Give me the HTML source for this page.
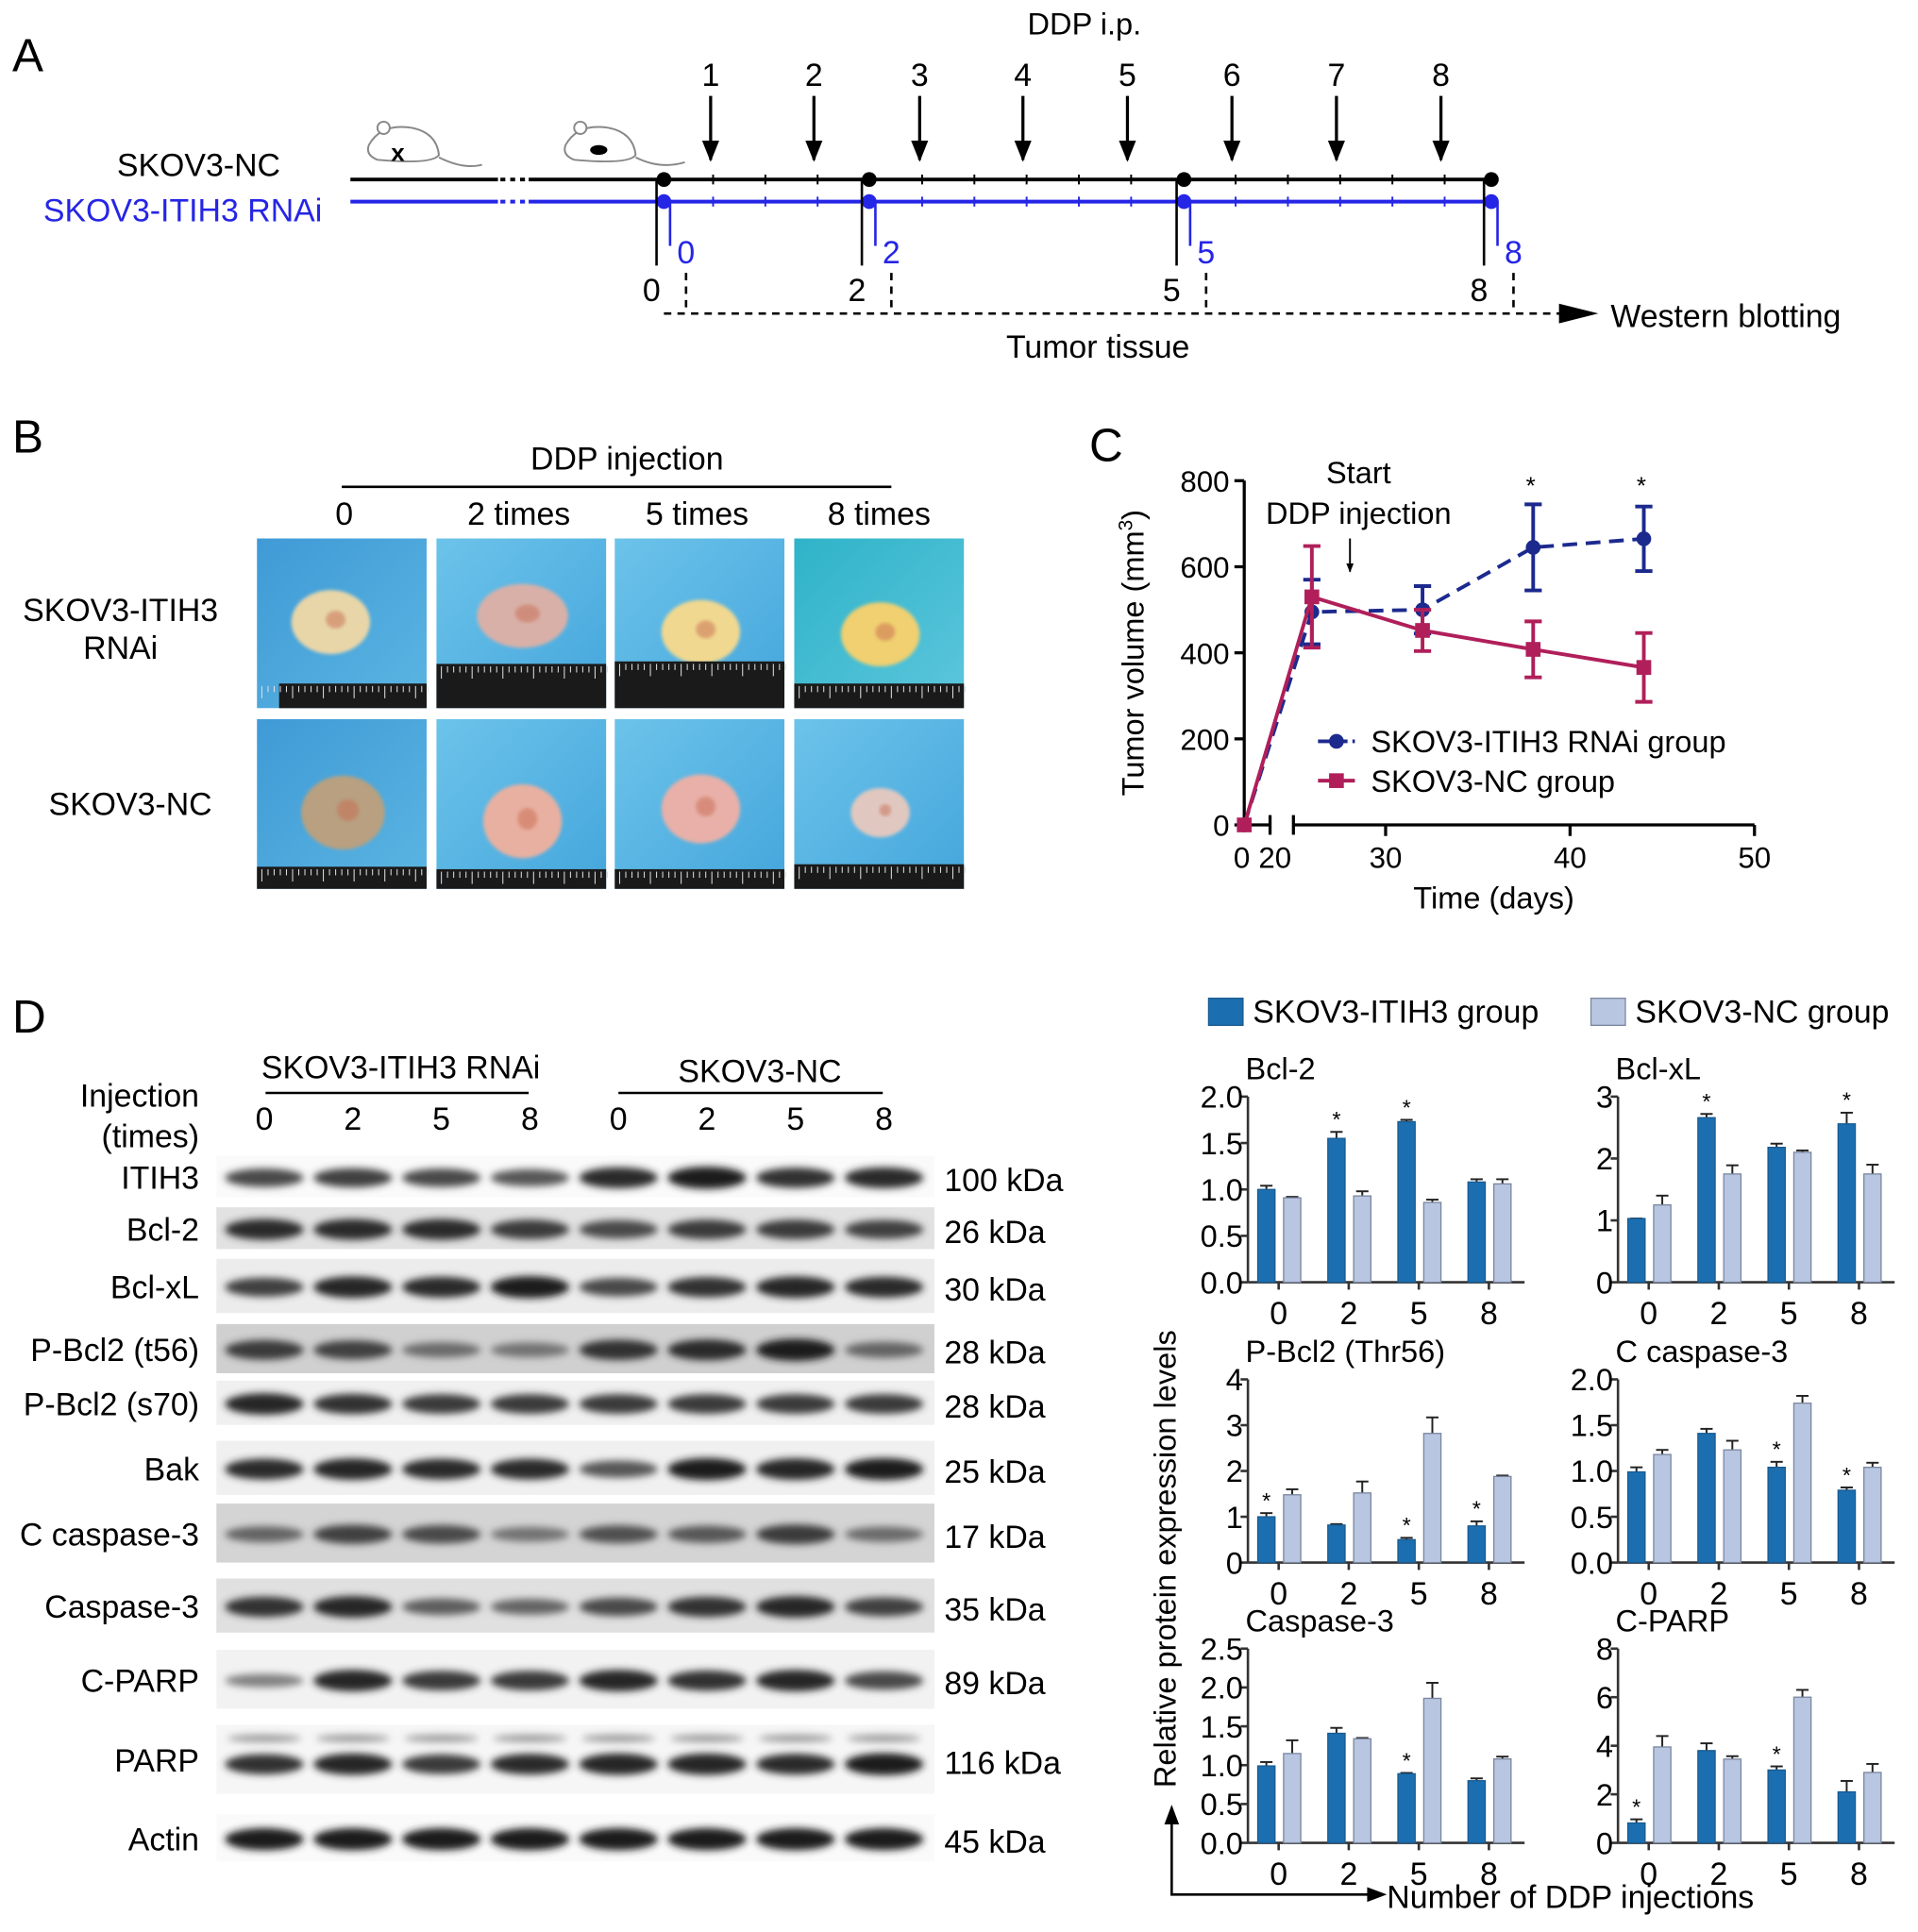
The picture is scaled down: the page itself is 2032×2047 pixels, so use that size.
<!DOCTYPE html>
<html><head><meta charset="utf-8"><title>Figure</title>
<style>
html,body{margin:0;padding:0;background:#fff;}
svg{display:block;font-family:"Liberation Sans",Arial,sans-serif;}
</style></head>
<body>
<svg id="fig" width="2032" height="2047" viewBox="0 0 1560 1571.5" preserveAspectRatio="none" xmlns="http://www.w3.org/2000/svg">
<defs>
<filter id="blur" x="-30%" y="-100%" width="160%" height="300%"><feGaussianBlur stdDeviation="3"/></filter>
<filter id="blur2"><feGaussianBlur stdDeviation="1.5"/></filter>
<marker id="ah" viewBox="0 0 10 10" refX="9" refY="5" markerWidth="7" markerHeight="7" orient="auto"><path d="M0,1 L10,5 L0,9 z" fill="#000"/></marker>
<marker id="ahs" viewBox="0 0 10 10" refX="9" refY="5" markerWidth="5" markerHeight="5" orient="auto"><path d="M0,1 L10,5 L0,9 z" fill="#000"/></marker>
<linearGradient id="bg1" x1="0" y1="0" x2="1" y2="1"><stop offset="0" stop-color="#3f9ad6"/><stop offset="1" stop-color="#5bb5e2"/></linearGradient>
<linearGradient id="bg2" x1="0" y1="0" x2="1" y2="1"><stop offset="0" stop-color="#6cc3ea"/><stop offset="1" stop-color="#45a6dc"/></linearGradient>
<linearGradient id="bg3" x1="0" y1="0" x2="1" y2="1"><stop offset="0" stop-color="#2fb3c8"/><stop offset="1" stop-color="#5cc6dd"/></linearGradient>
</defs>

<!-- Panel A -->
<g>
<text x="10" y="58" font-size="38">A</text>
<text x="882" y="28" font-size="25" text-anchor="middle">DDP i.p.</text>
<text x="228" y="143" font-size="26" text-anchor="end">SKOV3-NC</text>
<text x="262" y="180" font-size="26" text-anchor="end" fill="#2525e6">SKOV3-ITIH3 RNAi</text>
<g fill="#fff" stroke="#888" stroke-width="1.5">
<path d="M300,118 q10,-18 35,-14 q20,4 22,22 q-5,8 -50,4 q-10,-4 -7,-12z"/><path d="M357,128 q20,10 35,6" fill="none"/><circle cx="312" cy="104" r="5"/><text x="318" y="131" font-size="20" font-weight="bold" stroke="none" fill="#000">x</text></g>
<g fill="#fff" stroke="#888" stroke-width="1.5">
<path d="M460,118 q10,-18 35,-14 q20,4 22,22 q-5,8 -50,4 q-10,-4 -7,-12z"/><path d="M517,128 q20,10 40,4" fill="none"/><circle cx="472" cy="104" r="5"/><ellipse cx="487" cy="122" rx="7" ry="4" fill="#000" stroke="none"/></g>
<g id="timeline"></g>
<text x="1310" y="266" font-size="26">Western blotting</text>
<text x="893" y="291" font-size="26" text-anchor="middle">Tumor tissue</text>
</g>

<!-- Panel B -->
<g>
<text x="10" y="368" font-size="38">B</text>
<text x="510" y="382" font-size="26" text-anchor="middle">DDP injection</text>
<line x1="278" y1="396" x2="725" y2="396" stroke="#000" stroke-width="2"/>
<text x="280" y="427" font-size="26" text-anchor="middle">0</text>
<text x="422" y="427" font-size="26" text-anchor="middle">2 times</text>
<text x="567" y="427" font-size="26" text-anchor="middle">5 times</text>
<text x="715" y="427" font-size="26" text-anchor="middle">8 times</text>
<text font-size="26" text-anchor="middle"><tspan x="98" y="505">SKOV3-ITIH3</tspan><tspan x="98" y="536">RNAi</tspan></text>
<text x="106" y="663" font-size="26" text-anchor="middle">SKOV3-NC</text>
<g id="photos"></g>
</g>

<!-- Panel C -->
<g>
<text x="886" y="375" font-size="38">C</text>
<g id="chartC"></g>
</g>

<!-- Panel D -->
<g>
<text x="10" y="840" font-size="38">D</text>
<text x="326" y="877" font-size="26" text-anchor="middle">SKOV3-ITIH3 RNAi</text>
<line x1="216" y1="889" x2="430" y2="889" stroke="#000" stroke-width="2"/>
<text x="618" y="880" font-size="26" text-anchor="middle">SKOV3-NC</text>
<line x1="503" y1="889" x2="718" y2="889" stroke="#000" stroke-width="2"/>
<text font-size="26" text-anchor="end"><tspan x="162" y="900">Injection</tspan><tspan x="162" y="933">(times)</tspan></text>
<g id="blots"></g>
<g id="bars"></g>
</g>
</svg>

<script>
const NS='http://www.w3.org/2000/svg';
function mk(parent,tag,attrs,txt){const e=document.createElementNS(NS,tag);for(const k in attrs)e.setAttribute(k,attrs[k]);if(txt!==undefined)e.textContent=txt;parent.appendChild(e);return e;}

/* ---------- Panel A timeline ---------- */
(function(){
const g=document.getElementById('timeline');
const arrowX=[578,662,748,832,917,1002,1087,1172];
arrowX.forEach((x,i)=>{
 const t=mk(g,'text',{x:x,y:70,'font-size':26,'text-anchor':'middle'},String(i+1));
 
 
 mk(g,'line',{x1:x,y1:78,x2:x,y2:130,stroke:'#000','stroke-width':2.5,'marker-end':'url(#ah)'});
});
[['#000',146],['#2525e6',164]].forEach(([c,y])=>{
 mk(g,'line',{x1:285,y1:y,x2:405,y2:y,stroke:c,'stroke-width':3});
 mk(g,'line',{x1:407,y1:y,x2:428,y2:y,stroke:c,'stroke-width':3,'stroke-dasharray':'4 4'});
 mk(g,'line',{x1:430,y1:y,x2:1213,y2:y,stroke:c,'stroke-width':3});
 for(let x=580;x<1213;x+=42.5) mk(g,'line',{x1:x,y1:y-4,x2:x,y2:y+4,stroke:c,'stroke-width':1.5});
});
const sx=[540,707,963,1213], lab=['0','2','5','8'];
sx.forEach((x,i)=>{
 mk(g,'circle',{cx:x,cy:146,r:6,fill:'#000'});
 mk(g,'circle',{cx:x,cy:164,r:6,fill:'#2525e6'});
 mk(g,'line',{x1:x-6,y1:146,x2:x-6,y2:216,stroke:'#000','stroke-width':2});
 mk(g,'line',{x1:x+5,y1:164,x2:x+5,y2:200,stroke:'#2525e6','stroke-width':2});
 mk(g,'text',{x:x+18,y:214,'font-size':26,'text-anchor':'middle',fill:'#2525e6'},lab[i]);
 mk(g,'text',{x:x-10,y:245,'font-size':26,'text-anchor':'middle'},lab[i]);
 mk(g,'line',{x1:x+18,y1:222,x2:x+18,y2:255,stroke:'#000','stroke-width':2,'stroke-dasharray':'6 5'});
});
mk(g,'line',{x1:540,y1:255,x2:1298,y2:255,stroke:'#000','stroke-width':2,'stroke-dasharray':'6 5'});
mk(g,'path',{d:'M1268,247 L1300,255 L1268,263 z',fill:'#000'});
})();

/* ---------- Panel B photos ---------- */
(function(){
const g=document.getElementById('photos');
const cols=[209,355,500,646], rows=[438,585];
const bgs=[['url(#bg1)','url(#bg2)','url(#bg2)','url(#bg3)'],['url(#bg1)','url(#bg2)','url(#bg2)','url(#bg2)']];
const tum=[[['#e8d6a8',60,40,20,18],['#d8b0a8',70,35,25,18],['#f0d890',70,48,20,18],['#f0d070',70,50,20,18]],
           [['#b8a080',70,48,22,22],['#e8b0a0',70,55,20,22],['#e8b0a8',70,45,20,20],['#e0c8c0',70,48,12,12]]];
const rul=[[118,102,100,118],[120,122,122,118]];
rows.forEach((y,r)=>cols.forEach((x,c)=>{
 const p=mk(g,'g',{});
 
 
 mk(p,'rect',{x:x,y:y,width:138,height:138,fill:bgs[r][c]});
 const t=tum[r][c];
 mk(p,'ellipse',{cx:x+t[1],cy:y+t[2]+28,rx:t[3]+12,ry:t[4]+8,fill:t[0],filter:'url(#blur2)'});
 mk(p,'ellipse',{cx:x+t[1]+4,cy:y+t[2]+26,rx:t[3]*0.4,ry:t[4]*0.4,fill:'#c86a50',opacity:0.5,filter:'url(#blur2)'});
 const ry=y+rul[r][c];
 mk(p,'rect',{x:x+(c==0&&r==0?18:0),y:ry,width:138-(c==0&&r==0?18:0),height:138-rul[r][c],fill:'#1a1a1a'});
 for(let k=0;k<28;k++){const xx=x+4+k*5;mk(p,'line',{x1:xx,y1:ry+2,x2:xx,y2:ry+(k%5==0?12:7),stroke:'#ddd','stroke-width':0.8});}
}));
})();

/* ---------- Panel C chart ---------- */
const cDays=[0,26,32,38,44];
const cRnai=[0,495,500,645,665];
const cRnaiErr=[0,75,55,100,75];
const cNc=[0,530,452,408,366];
const cNcErr=[0,118,48,65,80];
const cYTicks=[0,200,400,600,800];
const cXTicks=[30,40,50];
(function(){
const g=document.getElementById('chartC');
const y0=671, ppv=280/800;
const Y=v=>y0-v*ppv;
const X=d=>d<=0?1012:1127+(d-30)*15;
mk(g,'line',{x1:1012,y1:391,x2:1012,y2:671,stroke:'#000','stroke-width':2.5});
cYTicks.forEach(v=>{
 mk(g,'line',{x1:1004,y1:Y(v),x2:1012,y2:Y(v),stroke:'#000','stroke-width':2.5});
 const t=mk(g,'text',{x:1000,y:Y(v)+9,'font-size':24,'text-anchor':'end'},String(v));
 
 
});
mk(g,'line',{x1:1012,y1:671,x2:1033,y2:671,stroke:'#000','stroke-width':2.5});
mk(g,'line',{x1:1033,y1:663,x2:1033,y2:679,stroke:'#000','stroke-width':2.5});
mk(g,'line',{x1:1052,y1:671,x2:1427,y2:671,stroke:'#000','stroke-width':2.5});
mk(g,'line',{x1:1052,y1:663,x2:1052,y2:679,stroke:'#000','stroke-width':2.5});
mk(g,'text',{x:1010,y:706,'font-size':24,'text-anchor':'middle'},'0');
mk(g,'text',{x:1037,y:706,'font-size':24,'text-anchor':'middle'},'20');
cXTicks.forEach(d=>{
 mk(g,'line',{x1:X(d),y1:671,x2:X(d),y2:680,stroke:'#000','stroke-width':2.5});
 const t=mk(g,'text',{x:X(d),y:706,'font-size':24,'text-anchor':'middle'},String(d));
 
 
});
const xt=mk(g,'text',{x:1215,y:739,'font-size':25,'text-anchor':'middle'},'Time (days)');


const yt=mk(g,'text',{x:0,y:0,'font-size':25,'text-anchor':'middle',transform:'translate(930,531) rotate(-90)'});


yt.innerHTML='Tumor volume (mm<tspan dy="-9" font-size="16">3</tspan><tspan dy="9">)</tspan>';
function series(vals,errs,color,dash,marker,name){
 const sg=mk(g,'g',{});
 
 
 const pts=cDays.map((d,i)=>X(d)+','+Y(vals[i])).join(' ');
 mk(sg,'polyline',{points:pts,fill:'none',stroke:color,'stroke-width':3,'stroke-dasharray':dash});
 cDays.forEach((d,i)=>{
  const x=X(d),y=Y(vals[i]);
  if(errs[i]>0){
   mk(sg,'line',{x1:x,y1:Y(vals[i]-errs[i]),x2:x,y2:Y(vals[i]+errs[i]),stroke:color,'stroke-width':3});
   mk(sg,'line',{x1:x-7,y1:Y(vals[i]+errs[i]),x2:x+7,y2:Y(vals[i]+errs[i]),stroke:color,'stroke-width':3});
   mk(sg,'line',{x1:x-7,y1:Y(vals[i]-errs[i]),x2:x+7,y2:Y(vals[i]-errs[i]),stroke:color,'stroke-width':3});
  }
  if(marker=='c') mk(sg,'circle',{cx:x,cy:y,r:6,fill:color}); else mk(sg,'rect',{x:x-6,y:y-6,width:12,height:12,fill:color});
 });
}
series(cRnai,cRnaiErr,'#1c2a8e','12 7','c','series-rnai');
series(cNc,cNcErr,'#b01f5a','','s','series-nc');
mk(g,'text',{x:1245,y:402,'font-size':20,'text-anchor':'middle'},'*');
mk(g,'text',{x:1335,y:402,'font-size':20,'text-anchor':'middle'},'*');
mk(g,'text',{x:1105,y:393,'font-size':25,'text-anchor':'middle'},'Start');
mk(g,'text',{x:1105,y:426,'font-size':25,'text-anchor':'middle'},'DDP injection');
mk(g,'line',{x1:1098,y1:438,x2:1098,y2:465,stroke:'#000','stroke-width':1.5,'marker-end':'url(#ahs)'});
const l1=mk(g,'g',{});


mk(l1,'line',{x1:1072,y1:603,x2:1102,y2:603,stroke:'#1c2a8e','stroke-width':3,'stroke-dasharray':'10 4'});
mk(l1,'circle',{cx:1087,cy:603,r:6,fill:'#1c2a8e'});
mk(l1,'text',{x:1115,y:612,'font-size':25},'SKOV3-ITIH3 RNAi group');
const l2=mk(g,'g',{});


mk(l2,'line',{x1:1072,y1:635,x2:1102,y2:635,stroke:'#b01f5a','stroke-width':3});
mk(l2,'rect',{x:1081,y:629,width:12,height:12,fill:'#b01f5a'});
mk(l2,'text',{x:1115,y:644,'font-size':25},'SKOV3-NC group');
})();

/* ---------- Panel D blots ---------- */
const blotNames=['ITIH3','Bcl-2','Bcl-xL','P-Bcl2 (t56)','P-Bcl2 (s70)','Bak','C caspase-3','Caspase-3','C-PARP','PARP','Actin'];
const blotKda=['100 kDa','26 kDa','30 kDa','28 kDa','28 kDa','25 kDa','17 kDa','35 kDa','89 kDa','116 kDa','45 kDa'];
(function(){
const g=document.getElementById('blots');
const ys=[958,1000,1047,1098,1142,1195,1248,1307,1367,1432,1496];
const bgc=['#fafafa','#e2e2e2','#ececec','#d0d0d0','#f0f0f0','#f0f0f0','#d4d4d4','#e0e0e0','#f2f2f2','#f6f6f6','#fafafa'];
const hs=[36,36,46,42,38,46,50,46,50,58,40];
const inten=[[.7,.75,.7,.6,.9,1,.85,.9],[.9,.9,.9,.8,.7,.8,.8,.75],[.75,.95,.9,1,.7,.85,.95,.9],[.8,.75,.45,.4,.85,.9,1,.5],[.95,.85,.8,.8,.8,.8,.8,.8],[.9,.95,.9,.9,.6,1,.95,1],[.5,.75,.7,.4,.65,.6,.8,.45],[.85,.95,.55,.5,.7,.85,.95,.75],[.3,.95,.8,.8,.95,.85,.95,.7],[.85,.95,.8,.9,.95,.95,.9,1],[1,1,1,1,1,1,1,1]];
const lanes=[215,287,359,431,503,575,647,719];
['0','2','5','8','0','2','5','8'].forEach((l,i)=>mk(g,'text',{x:lanes[i],y:919,'font-size':26,'text-anchor':'middle'},l));
ys.forEach((y,r)=>{
 const row=mk(g,'g',{});
 
 
 mk(row,'rect',{x:176,y:y-hs[r]/2,width:584,height:hs[r]-2,fill:bgc[r]});
 lanes.forEach((x,i)=>{
  const v=inten[r][i];
  const c=Math.round(30+(1-v)*140);
  mk(row,'ellipse',{cx:x,cy:y+(r==9?3:0),rx:32,ry:4+v*5,fill:`rgb(${c},${c},${c})`,filter:'url(#blur)'});
  if(r==9) mk(row,'ellipse',{cx:x,cy:y-18,rx:30,ry:3,fill:'#999',filter:'url(#blur)'});
 });
 mk(row,'text',{x:162,y:y+9,'font-size':26,'text-anchor':'end'},blotNames[r]);
 mk(row,'text',{x:768,y:y+11,'font-size':26},blotKda[r]);
});
})();

/* ---------- Panel D bar charts ---------- */
const barCats=['0','2','5','8'];
const bcl2Blue=[1.0,1.55,1.73,1.08], bcl2BlueErr=[0.04,0.07,0.02,0.03];
const bcl2Gray=[0.91,0.93,0.86,1.06], bcl2GrayErr=[0.01,0.05,0.03,0.05];
const bclxlBlue=[1.03,2.66,2.18,2.56], bclxlBlueErr=[0,0.06,0.06,0.18];
const bclxlGray=[1.25,1.75,2.1,1.75], bclxlGrayErr=[0.15,0.14,0.03,0.15];
const pbclBlue=[1.0,0.82,0.5,0.8], pbclBlueErr=[0.08,0.02,0.04,0.1];
const pbclGray=[1.48,1.52,2.82,1.88], pbclGrayErr=[0.12,0.25,0.35,0.02];
const ccasBlue=[0.99,1.41,1.04,0.79], ccasBlueErr=[0.05,0.05,0.06,0.03];
const ccasGray=[1.18,1.23,1.74,1.04], ccasGrayErr=[0.05,0.1,0.08,0.05];
const casBlue=[0.99,1.41,0.89,0.8], casBlueErr=[0.05,0.07,0.01,0.03];
const casGray=[1.15,1.34,1.86,1.08], casGrayErr=[0.17,0.01,0.2,0.03];
const cparpBlue=[0.82,3.8,3.0,2.1], cparpBlueErr=[0.15,0.3,0.15,0.45];
const cparpGray=[3.95,3.45,6.0,2.9], cparpGrayErr=[0.45,0.12,0.3,0.35];
const bcl2Ticks=['0.0','0.5','1.0','1.5','2.0'];
const bclxlTicks=['0','1','2','3'];
const pbclTicks=['0','1','2','3','4'];
const ccasTicks=['0.0','0.5','1.0','1.5','2.0'];
const casTicks=['0.0','0.5','1.0','1.5','2.0','2.5'];
const cparpTicks=['0','2','4','6','8'];
const bcl2Stars=[1,2], bclxlStars=[1,3], pbclStars=[0,2,3], ccasStars=[2,3], casStars=[2], cparpStars=[0,2];
(function(){
const g=document.getElementById('bars');
const BLUE='#1b6fb0', GRAY='#b8c6e2';
const panels=[
 {t:'Bcl-2',ax:1015,top:892,bot:1043,b:bcl2Blue,be:bcl2BlueErr,gr:bcl2Gray,ge:bcl2GrayErr,ticks:bcl2Ticks,st:bcl2Stars,n:'bar-chart-bcl2'},
 {t:'Bcl-xL',ax:1316,top:892,bot:1043,b:bclxlBlue,be:bclxlBlueErr,gr:bclxlGray,ge:bclxlGrayErr,ticks:bclxlTicks,st:bclxlStars,n:'bar-chart-bclxl'},
 {t:'P-Bcl2 (Thr56)',ax:1015,top:1122,bot:1271,b:pbclBlue,be:pbclBlueErr,gr:pbclGray,ge:pbclGrayErr,ticks:pbclTicks,st:pbclStars,n:'bar-chart-pbcl2'},
 {t:'C caspase-3',ax:1316,top:1122,bot:1271,b:ccasBlue,be:ccasBlueErr,gr:ccasGray,ge:ccasGrayErr,ticks:ccasTicks,st:ccasStars,n:'bar-chart-ccaspase3'},
 {t:'Caspase-3',ax:1015,top:1341,bot:1499,b:casBlue,be:casBlueErr,gr:casGray,ge:casGrayErr,ticks:casTicks,st:casStars,n:'bar-chart-caspase3'},
 {t:'C-PARP',ax:1316,top:1341,bot:1499,b:cparpBlue,be:cparpBlueErr,gr:cparpGray,ge:cparpGrayErr,ticks:cparpTicks,st:cparpStars,n:'bar-chart-cparp'}];
panels.forEach(p=>{
 const pg=mk(g,'g',{});
 
 
 const max=parseFloat(p.ticks[p.ticks.length-1]);
 const Y=v=>p.bot-v/max*(p.bot-p.top);
 const X=i=>p.ax+25+i*57;
 mk(pg,'line',{x1:p.ax,y1:p.top,x2:p.ax,y2:p.bot,stroke:'#333','stroke-width':2});
 mk(pg,'line',{x1:p.ax,y1:p.bot,x2:p.ax+225,y2:p.bot,stroke:'#333','stroke-width':2});
 p.ticks.forEach(tk=>{
  const v=parseFloat(tk);
  mk(pg,'line',{x1:p.ax-6,y1:Y(v),x2:p.ax,y2:Y(v),stroke:'#333','stroke-width':2});
  const t=mk(pg,'text',{x:p.ax-4,y:Y(v)+9,'font-size':25,'text-anchor':'end'},tk);
  
  
 });
 mk(pg,'text',{x:p.ax-2,y:p.top-14,'font-size':25},p.t);
 barCats.forEach((c,i)=>{
  const cx=X(i);
  mk(pg,'line',{x1:cx,y1:p.bot,x2:cx,y2:p.bot+6,stroke:'#333','stroke-width':2});
  const t=mk(pg,'text',{x:cx,y:p.bot+34,'font-size':26,'text-anchor':'middle'},c);
  
  
  [[p.b,p.be,BLUE,cx-17,'#1a5a90'],[p.gr,p.ge,GRAY,cx+4,'#7a869e']].forEach(([vals,errs,col,bx,sc])=>{
   const v=vals[i], e=errs[i];
   const yt=Y(v+e);
   mk(pg,'line',{x1:bx+7,y1:Y(v),x2:bx+7,y2:yt,stroke:'#222','stroke-width':1.5});
   mk(pg,'line',{x1:bx+2,y1:yt,x2:bx+12,y2:yt,stroke:'#222','stroke-width':1.5});
   const r=mk(pg,'rect',{x:bx,y:Y(v),width:14,height:p.bot-Y(v),fill:col,stroke:sc,'stroke-width':1});
   
   
  });
  if(p.st.indexOf(i)>=0){
   const v=p.b[i]+p.be[i];
   mk(pg,'text',{x:cx-10,y:Y(v)-4,'font-size':18,'text-anchor':'middle'},'*');
  }
 });
});
const lg1=mk(g,'g',{});


mk(lg1,'rect',{x:983,y:812,width:28,height:22,fill:BLUE,stroke:'#1a5a90'});
mk(lg1,'text',{x:1019,y:832,'font-size':26},'SKOV3-ITIH3 group');
const lg2=mk(g,'g',{});


mk(lg2,'rect',{x:1294,y:812,width:28,height:22,fill:GRAY,stroke:'#7a869e'});
mk(lg2,'text',{x:1330,y:832,'font-size':26},'SKOV3-NC group');
const yt=mk(g,'text',{x:0,y:0,'font-size':25,'text-anchor':'middle',transform:'translate(956,1268) rotate(-90)'},'Relative protein expression levels');


mk(g,'polyline',{points:'953,1481 953,1541 1120,1541',fill:'none',stroke:'#000','stroke-width':2});
mk(g,'path',{d:'M947,1484 L953,1468 L959,1484 z',fill:'#000'});
mk(g,'path',{d:'M1112,1535 L1128,1541 L1112,1547 z',fill:'#000'});
const xt=mk(g,'text',{x:1128,y:1552,'font-size':26},'Number of DDP injections');


})();
</script>
</body></html>
